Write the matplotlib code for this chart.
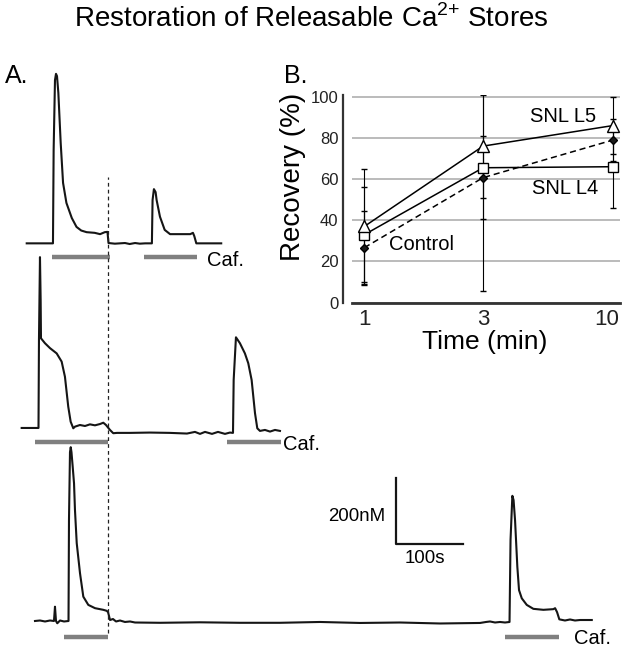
import numpy as np
import matplotlib.pyplot as plt
from matplotlib.ticker import NullLocator
from matplotlib.transforms import ScaledTranslation

plt.rcParams['font.family'] = ['Liberation Sans', 'DejaVu Sans']
plt.rcParams['mathtext.fontset'] = 'custom'
plt.rcParams['mathtext.rm'] = 'Liberation Sans'

W, H = 623, 652

# ---- panel A: Ca2+ traces, time (s) from trace start, rise above rest (nM)
top_t = [0, 39, 40, 42, 43.5, 45, 47, 50.5, 54, 59, 67, 74, 81, 89, 101, 109, 116, 120,
         121.5, 131, 146, 153, 161, 168, 176, 186, 187, 189, 191.5, 193, 198, 205, 213,
         228, 243, 247, 249, 252, 289]
top_ca = [0, 0, 284, 497, 516, 509, 458, 305, 184, 123, 77, 50, 39, 34, 32, 28, 34, 35,
          1, -1, 1, -2, 1, -1, 0, 0, 132, 165, 156, 132, 81, 41, 28,
          28, 28, 32, 22, 0, 0]

mid_t = [0, 25, 25.7, 27.2, 28.2, 28.7, 34.6, 42.1, 52, 59.4, 64.3, 69.2, 72.8, 76.7, 79.2,
         86.6, 94.1, 101.5, 108.9, 116.4, 121.3, 125.3, 131.2, 136.1, 141.6, 160.9, 190.6,
         220.4, 245.6, 257.5, 265, 272.4, 282.8, 291.7, 302.1, 309.5, 314, 315, 318.4, 324.3,
         331.7, 336.7, 341.7, 346.7, 350.1, 354.1, 361.5, 369, 376.4, 383.8]
mid_ca = [0, 0, 268, 520, 390, 273, 258, 243, 227, 202, 156, 65, 19, -1, 4,
          9, 6, 11, 8, 12, 16, 9, -6, -16, -15, -15, -14,
          -15, -17, -12, -18, -12, -18, -12, -18, -14, -15, 146, 276, 258,
          227, 197, 146, 45, -1, -9, -6, -11, -6, -9]

bot_t = [0, 7.4, 14.9, 22.3, 28.2, 29.7, 31.2, 33.1, 37.2, 43.1, 49.8, 50.5, 52, 53.1, 54.2,
         56, 58, 59.4, 62, 66.9, 71.8, 79.2, 89.2, 101.5, 106.5, 108.5, 111.5, 115.9, 120.4,
         126.3, 133.7, 141.2, 148.6, 185.8, 245.2, 304.6, 364.1, 423.5, 483, 542.4, 601.8,
         661.3, 670.2, 676.1, 683.6, 691, 698.4, 705.1, 706.6, 709.3, 711.1, 713.3, 716.7,
         719.2, 723.3, 730.7, 740.5, 755.4, 770.2, 772.8, 775.7, 779.1, 787.5, 795, 802.4,
         809.8, 817.3, 827.3]
bot_ca = [0, 1.5, -1.5, 1.5, 0, 43.5, 0, -7, 1.5, -1.5, 0, 307, 514, 529, 514,
          470, 419, 338, 237, 145, 74, 49, 39, 34, 31, 27, 3, 6, -1.5,
          1.5, -3, -1.5, -4.6, -5.5, -4, -5.5, -5.5, -3, -6, -4.6, -7.6,
          -6, -3, -1.5, -4.6, -3, -4.6, -3, 247, 381, 368, 307, 165,
          94, 69, 49, 37, 34, 36, 39, 27, 5, 1.5, 4.6, 1.5,
          3, 3, 3]

# caffeine applications (s from trace start)
top_caf = [(38, 124), (174, 253.5)]
mid_caf = [(19.8, 128.7), (304.6, 384.9)]
bot_caf = [(43.5, 108.9), (698.4, 779.1)]

scale_s, scale_nm = 100, 200

# ---- panel B: recovery
times = [1, 3, 10]
snl_l5 = [37, 76, 86]
snl_l4 = [33, 65.5, 66]
control = [26.7, 60.7, 79]
snl_l5_err = [28, 25, 14]
snl_l4_err = [23, 60, 20]
control_err = [18, 20, 10]

# layout: scale of panel A read from the 100s / 200nM bar
SEC_PER_PX = 100 / 67.3
NM_PER_PX = 200 / 65.7


def fx(x):
    return x / W


def fy(y):
    return 1 - y / H


fig = plt.figure(figsize=(W / 100, H / 100), dpi=100)

ax_a = fig.add_axes([0, 0, 1, 1])
ax_a.set_xlim(0, W * SEC_PER_PX)
ax_a.set_ylim(0, H * NM_PER_PX)
ax_a.axis('off')

traces = [
    (top_t, top_ca, (39.7, 1244), top_caf, 42),
    (mid_t, mid_ca, (32.2, 682), mid_caf, 42),
    (bot_t, bot_ca, (52.0, 94.4), bot_caf, 49),
]
for t, ca, (x0, y0), caf, off in traces:
    ax_a.plot(x0 + np.array(t), y0 + np.array(ca), color='#151515', lw=1.5,
              solid_joinstyle='round')
    for s, e in caf:
        ax_a.plot([x0 + s, x0 + e], [y0 - off, y0 - off], color='#808080', lw=3.2,
                  solid_capstyle='butt')

# dashed marker at end of first caffeine application
dash_x = 32.2 + mid_caf[0][1]
ax_a.plot([dash_x, dash_x], [58, 1446], color='#222222', lw=0.9, dashes=(3, 2.5))

# scale bar
sx, sy = 588.5, 328.8
ax_a.plot([sx, sx, sx + scale_s], [sy + scale_nm, sy, sy], color='#151515', lw=1.6)
fig.text(fx(385), fy(516.7), '%dnM' % scale_nm, ha='right', va='center', fontsize=13.4)
fig.text(fx(424.5), fy(558.3), '%ds' % scale_s, ha='center', va='center', fontsize=13.4)

for x, y in [(207, 261), (283, 444), (574, 639)]:
    fig.text(fx(x), fy(y), 'Caf.', ha='left', va='center', fontsize=14.5)

fig.text(fx(311.7), fy(26.7), 'Restoration of Releasable Ca$^{2{+}}$ Stores',
         ha='center', va='baseline', fontsize=20)
fig.text(fx(5), fy(83), 'A.', ha='left', va='baseline', fontsize=18)
fig.text(fx(284), fy(83), 'B.', ha='left', va='baseline', fontsize=18)

# ---- panel B
ax_b = fig.add_axes([fx(351.7), fy(302.7), (620 - 351.7) / W, (302.7 - 94.6) / H])
ax_b.set_facecolor('none')
ax_b.set_xscale('log')
ax_b.set_xlim(0.89, 10.64)
ax_b.set_ylim(0, 101)
ax_b.xaxis.set_minor_locator(NullLocator())
ax_b.set_xticks(times)
ax_b.set_xticklabels([str(t) for t in times])
ax_b.set_yticks([0, 20, 40, 60, 80, 100])
ax_b.tick_params(axis='x', length=0, labelsize=16, pad=4.5, colors='#222222')
ax_b.tick_params(axis='y', length=0, labelsize=12, pad=3, colors='#222222')
last = ax_b.get_xticklabels()[-1]
last.set_transform(last.get_transform() + ScaledTranslation(-0.07, 0, fig.dpi_scale_trans))
ax_b.yaxis.grid(True, color='#a8a8a8', lw=1.1)
ax_b.set_axisbelow(True)
for side in ['top', 'right']:
    ax_b.spines[side].set_visible(False)
ax_b.spines['left'].set_position(('outward', 6.5))
ax_b.spines['left'].set_linewidth(1.6)
ax_b.spines['left'].set_color('#333333')
ax_b.spines['bottom'].set_linewidth(2)
ax_b.spines['bottom'].set_color('#333333')

err_kw = dict(color='black', ecolor='black', elinewidth=0.8, capsize=2, capthick=0.8,
              lw=1.1, mec='black', mew=1)
ax_b.errorbar(times, control, yerr=control_err, fmt='D', ls=(0, (4, 2.5)), mfc='#1a1a1a',
              ms=4, **err_kw)
ax_b.errorbar(times, snl_l4, yerr=snl_l4_err, fmt='s', ls='-', mfc='white', ms=7.2, **err_kw)
ax_b.errorbar(times, snl_l5, yerr=snl_l5_err, fmt='^', ls='-', mfc='white', ms=8, **err_kw)

fig.text(fx(563.3), fy(116.7), 'SNL L5', ha='center', va='center', fontsize=14.5)
fig.text(fx(565), fy(188.3), 'SNL L4', ha='center', va='center', fontsize=14.5)
fig.text(fx(421.7), fy(245), 'Control', ha='center', va='center', fontsize=14.5)
fig.text(fx(293.3), fy(176.7), 'Recovery (%)', ha='center', va='center', rotation=90,
         fontsize=20)
fig.text(fx(485), fy(341.7), 'Time (min)', ha='center', va='center', fontsize=19)

fig.savefig('out.png', dpi=100)
